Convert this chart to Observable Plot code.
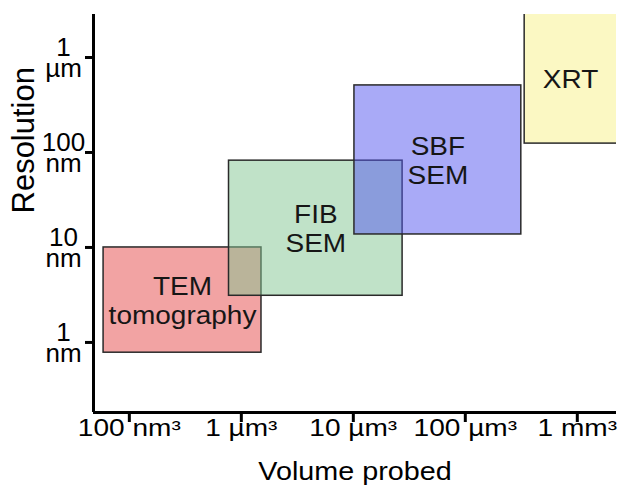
<!DOCTYPE html>
<html><head><meta charset="utf-8">
<script src="https://cdn.jsdelivr.net/npm/d3@7"></script>
<script src="https://cdn.jsdelivr.net/npm/@observablehq/plot@0.6"></script>
<style>body{margin:0;background:#fff} #chart{width:620px;height:490px}</style>
</head><body><div id="chart"></div>
<script>
// Techniques (x in decade-steps of the volume axis, y = resolution in nm)
const techniques = ["TEM\ntomography", "FIB\nSEM", "SBF\nSEM", "XRT"];
const volumeMin = [-0.23, 0.89, 2.01, 3.53];
const volumeMax = [1.18, 2.44, 3.50, 5.0];
const resolutionMin = [0.78, 3.1, 13.7, 124];
const resolutionMax = [10, 82, 508, 4000];
const fills = ["#e54747", "#81c591", "#5355ef", "#f7f187"];

const xTicks = [0, 1, 2, 3, 4];
const xTickLabels = ["100 nm³", "1 µm³", "10 µm³", "100 µm³", "1 mm³"];
const yTicks = [1, 10, 100, 1000];
const yTickNumbers = ["1", "10", "100", "1"];
const yTickUnits = ["nm", "nm", "nm", "µm"];
const xDomain = [-0.32, 4.35];
const yDomain = [0.183, 2835];

const data = techniques.map((t, i) => ({
  name: t, x1: volumeMin[i], x2: volumeMax[i],
  y1: resolutionMin[i], y2: resolutionMax[i], fill: fills[i]
}));

const font = "'Liberation Sans', Arial, Helvetica, sans-serif";

const chart = Plot.plot({
  width: 620, height: 490,
  marginTop: 14, marginRight: 4, marginBottom: 78, marginLeft: 93,
  style: {fontFamily: font, background: "#fff", color: "#000"},
  x: {domain: xDomain, axis: null},
  y: {type: "log", domain: yDomain, axis: null},
  color: {type: "identity"},
  marks: [
    Plot.rect(data, {x1: "x1", x2: "x2", y1: "y1", y2: "y2", fill: "fill",
      fillOpacity: 0.5, stroke: "#2a2a2a", strokeWidth: 1.5, clip: true}),
    Plot.text(data, {
      x: d => (d.x1 + Math.min(d.x2, xDomain[1])) / 2,
      y: d => Math.sqrt(d.y1 * Math.min(d.y2, yDomain[1])),
      text: "name", fontSize: 25, lineHeight: 1.18, fill: "#161616"
    }),
    Plot.ruleX([xDomain[0]], {stroke: "#000", strokeWidth: 3}),
    Plot.ruleY([yDomain[0]], {stroke: "#000", strokeWidth: 3}),
    Plot.axisY({ticks: yTicks, tickSize: 8, strokeWidth: 3, tickFormat: () => "", label: null}),
    Plot.axisX({ticks: xTicks, tickSize: 10, strokeWidth: 3, tickFormat: () => "", label: null}),
    Plot.text(yTicks, {y: d => d, frameAnchor: "left", dx: -30, dy: -10, textAnchor: "middle",
      text: (d, i) => yTickNumbers[i], fontSize: 26, fill: "#000"}),
    Plot.text(yTicks, {y: d => d, frameAnchor: "left", dx: -30, dy: 11, textAnchor: "middle",
      text: (d, i) => yTickUnits[i], fontSize: 26, fill: "#000"}),
    Plot.text(xTicks, {x: d => d, frameAnchor: "bottom", dy: 23,
      text: (d, i) => xTickLabels[i], fontSize: 23, fill: "#000"}),
    Plot.text(["Resolution"], {frameAnchor: "left", dx: -69, rotate: -90,
      text: d => d, fontSize: 31, fill: "#000"}),
    Plot.text(["Volume probed"], {frameAnchor: "bottom", dy: 67,
      text: d => d, fontSize: 25, fill: "#000"})
  ]
});

document.getElementById("chart").appendChild(chart);

// horizontal stretch of some labels (about their own centre) to match the reference's wide lettering
function stretch(matchSet, s) {
  d3.select(chart).selectAll("text").each(function() {
    if (!matchSet.has(this.textContent)) return;
    const b = this.getBBox();
    const cx = b.x + b.width / 2;
    const t = this.getAttribute("transform") || "";
    this.setAttribute("transform", `${t} translate(${cx},0) scale(${s},1) translate(${-cx},0)`);
  });
}
stretch(new Set(xTickLabels), 1.22);
stretch(new Set(["Volume probed"]), 1.15);
stretch(new Set(techniques.map(t => t.replace("\n", ""))), 1.12);
</script>
</body></html>
